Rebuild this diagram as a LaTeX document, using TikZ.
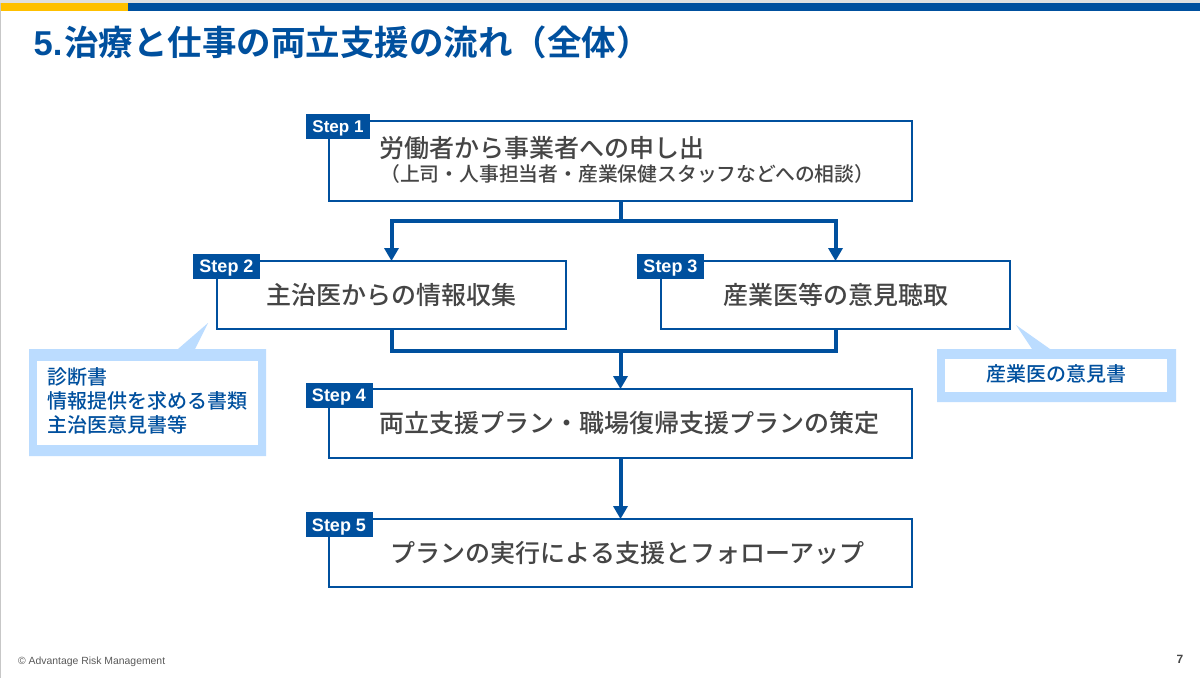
\documentclass[tikz,border=0pt]{standalone}
\usepackage{fontspec}
\usetikzlibrary{arrows.meta,positioning,calc}
\setmainfont{Liberation Sans}
\newfontfamily\jpm{Noto Sans CJK JP Medium}
\newfontfamily\jpb{Noto Sans CJK JP Bold}
\definecolor{navy}{HTML}{00509E}
\definecolor{gold}{HTML}{FFC000}
\definecolor{pale}{HTML}{BBDCFF}
\definecolor{ink}{HTML}{454545}
\tikzset{
  box/.style={draw=navy,line width=2.9pt,fill=white,inner sep=0pt,text=ink,font=\jpm\fontsize{25}{30}\selectfont},
  tag/.style={fill=navy,text=white,inner sep=0pt,text height=13pt,text depth=0pt,font=\bfseries\fontsize{18}{20}\selectfont},
  flow/.style={draw=navy,line width=4pt},
  flowarrow/.style={flow,shorten >=-1.5pt,-{Triangle[width=14pt,length=13pt]}},
  calltext/.style={text=navy,inner sep=0pt,font=\jpm\fontsize{20}{24}\selectfont},
  callframe/.style={fill=pale,draw=none},
}
\begin{document}
\begin{tikzpicture}[x=1pt,y=-1pt]
\useasboundingbox (0,0) rectangle (1200,678);
\fill[white] (0,0) rectangle (1200,678);
\fill[black!12] (0,0) rectangle (1200,3);
\fill[black!22] (0,3) rectangle (1,678);
\fill[gold] (1,3) rectangle (128,11);
\fill[navy] (128,3) rectangle (1200,11);
\node[anchor=west,inner sep=0pt,text=navy,font=\jpb\fontsize{34.5}{40}\selectfont] (title) at (33.5,42) {{\rmfamily\bfseries 5.}\hspace{2pt}治療と仕事の両立支援の流れ（全体）};
% boxes
\node[box,minimum width=583pt,minimum height=80pt] (s1) at (620.5,161) {};
\node[box,minimum width=349pt,minimum height=68pt] (s2) at (391.5,295) {主治医からの情報収集};
\node[box,minimum width=349pt,minimum height=68pt] (s3) at (835.5,295) {産業医等の意見聴取};
\node[box,minimum width=583pt,minimum height=69pt] (s4) at (620.5,423.5) {\hspace*{17pt}両立支援プラン・職場復帰支援プランの策定};
\node[box,minimum width=583pt,minimum height=68pt] (s5) at (620.5,553) {\hspace*{14pt}プランの実行による支援とフォローアップ};
\node[anchor=west,inner sep=0pt,text=ink,font=\jpm\fontsize{25}{30}\selectfont] (s1a) at (379,148) {労働者から事業者への申し出};
\node[anchor=west,inner sep=0pt,text=ink,font=\jpm\fontsize{19.8}{24}\selectfont] (s1b) at (380,174) {（上司・人事担当者・産業保健スタッフなどへの相談）};
% tags
\node[tag,minimum width=64pt,minimum height=25pt,font=\bfseries\fontsize{17}{20}\selectfont] (t1) at (338,126) {Step 1};
\node[tag,minimum width=67pt,minimum height=25pt] (t2) at (226.5,266) {Step 2};
\node[tag,minimum width=67pt,minimum height=25pt] (t3) at (670.5,266) {Step 3};
\node[tag,minimum width=67pt,minimum height=25pt] (t4) at (339,395) {Step 4};
\node[tag,minimum width=67pt,minimum height=25pt] (t5) at (339,524.5) {Step 5};
% connectors
\coordinate (j1) at (s1.south |- 0,221);
\coordinate (j2) at (s1.south |- 0,351);
\draw[flow] (s1.south) -- (j1);
\draw[flowarrow] (j1) -| (s2.north);
\draw[flowarrow] (j1) -| (s3.north);
\draw[flow] (s2.south) |- (j2);
\draw[flow] (s3.south) |- (j2);
\draw[flowarrow] (j2) -- (s4.north);
\draw[flowarrow] (s4.south) -- (s5.north);
% callouts
\fill[callframe] (29,349) -- (178,349) -- (208,323) -- (195,349) -- (266,349) -- (266,456) -- (29,456) -- cycle;
\fill[white] (37,361) rectangle (258,445);
\node[calltext,anchor=west,align=left] (c1) at (47,401) {診断書\\情報提供を求める書類\\主治医意見書等};
\fill[callframe] (937,349) -- (1032,349) -- (1016,325) -- (1050,349) -- (1176,349) -- (1176,402) -- (937,402) -- cycle;
\fill[white] (945,359) rectangle (1167,392);
\node[calltext] (c2) at (1056.5,374) {産業医の意見書};
% footer
\node[anchor=west,inner sep=0pt,text=black!65,font=\fontsize{10.4}{12}\selectfont] (foot) at (18,662) {© Advantage Risk Management};
\node[inner sep=0pt,text=ink,font=\bfseries\fontsize{12}{14}\selectfont] (page) at (1180,659) {7};
\end{tikzpicture}
\end{document}
